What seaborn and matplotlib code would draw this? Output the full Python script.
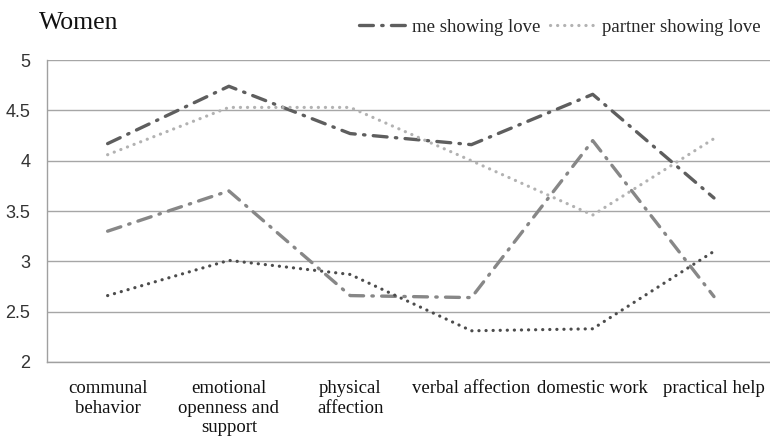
import matplotlib
matplotlib.use("Agg")
import matplotlib.pyplot as plt
from matplotlib.lines import Line2D
import seaborn as sns
import pandas as pd
import numpy as np

categories = ["communal\nbehavior", "emotional\nopenness and\nsupport", "physical\naffection",
              "verbal affection", "domestic work", "practical help"]
me_showing = [4.17, 4.74, 4.27, 4.16, 4.66, 3.63]
partner_showing = [4.06, 4.53, 4.53, 4.00, 3.46, 4.22]
series_3 = [3.30, 3.70, 2.66, 2.64, 4.20, 2.65]
series_4 = [2.66, 3.01, 2.87, 2.31, 2.33, 3.10]
y_ticks = [2, 2.5, 3, 3.5, 4, 4.5, 5]

sns.set_style("white")
plt.rcParams["lines.scale_dashes"] = False

fig = plt.figure(figsize=(7.7, 4.42), dpi=100)
ax = fig.add_axes([0.061, 0.181, 0.945, 0.683])

# one entry per line: values, colour, dash pattern, width
dashdot = (0, (10, 6, 1.0, 6))
dotted = (0, (0.1, 5.0))
styles = [
    ("me showing love", me_showing, "#5e5e5e", dashdot, 2.4),
    ("partner showing love", partner_showing, "#b2b2b2", dotted, 2.3),
    ("series 3", series_3, "#878787", dashdot, 2.4),
    ("series 4", series_4, "#4c4c4c", dotted, 2.3),
]

handles = []
for name, vals, col, dash, lw in styles:
    df = pd.DataFrame({"cat": categories, "val": vals})
    sns.lineplot(data=df, x="cat", y="val", ax=ax, color=col, lw=lw, sort=False)
    ln = ax.lines[-1]
    ln.set_linestyle(dash)
    ln.set_dash_capstyle("round")
    h = Line2D([], [], color=col, lw=lw, linestyle=dash)
    h.set_dash_capstyle("round")
    handles.append(h)

ax.set_xlim(-0.5, 5.5)
ax.set_ylim(2, 5)
ax.set_yticks(y_ticks)
ax.set_yticklabels([f"{t:g}" for t in y_ticks], fontsize=13, family="Liberation Sans", color="#333333")
ax.set_xticks(range(len(categories)))
ax.set_xticklabels(categories, fontsize=13.5, family="Liberation Serif", color="#111111", linespacing=1.2)
ax.set_xticks(np.arange(-0.5, 6.0, 1.0), minor=True)
ax.tick_params(axis="x", which="major", length=0, pad=13)
ax.tick_params(axis="x", which="minor", length=5, color="#a0a0a0", width=1)
ax.tick_params(axis="y", length=5, color="#a0a0a0", width=1, pad=7)
ax.set_xlabel("")
ax.set_ylabel("")

ax.grid(axis="y", color="#a6a6a6", lw=1)
for s in ["top", "right"]:
    ax.spines[s].set_visible(False)
for s in ["left", "bottom"]:
    ax.spines[s].set_color("#a0a0a0")
    ax.spines[s].set_linewidth(1)

fig.text(0.051, 0.948, "Women", fontsize=18.5, family="Liberation Serif", va="center", color="#111111")
fig.legend(handles[:2], ["me showing love", "partner showing love"], loc="center right",
           bbox_to_anchor=(1.01, 0.938), ncol=2, frameon=False, handlelength=2.6,
           handletextpad=0.2, columnspacing=0.5, prop={"family": "Liberation Serif", "size": 13.5})

fig.savefig("out.png", dpi=100)
